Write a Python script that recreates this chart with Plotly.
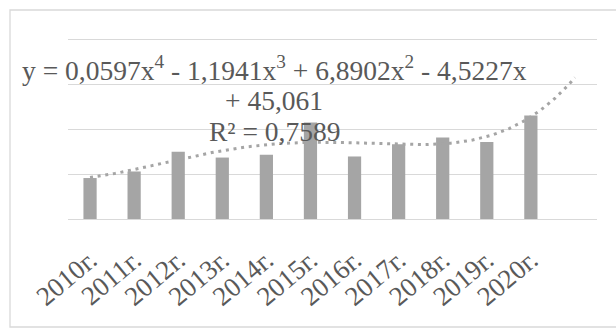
import numpy as np
import plotly.graph_objects as go

# Years and observed values
years = ["2010г.", "2011г.", "2012г.", "2013г.", "2014г.", "2015г.",
         "2016г.", "2017г.", "2018г.", "2019г.", "2020г."]
values = [45.6, 52.9, 74.8, 68.4, 71.4, 107.3, 69.6, 83.3, 90.7, 85.6, 115.1]

# Polynomial trend (4th degree) coefficients, highest power first
trend_coefs = [0.0597, -1.1941, 6.8902, -4.5227, 45.061]
trend_r2 = 0.7589
forecast_periods = 1

# Value-axis grid (small headroom so the top grid line is drawn)
y_max = 201.5
y_step = 50

TEXT = "#595959"
GRID = "#D9D9D9"
SERIF = "Liberation Serif"

xs = np.arange(1, len(values) + 1)
tx = np.linspace(1, len(values) + forecast_periods, 200)
ty = np.polyval(trend_coefs, tx)

fig = go.Figure()
fig.add_trace(go.Bar(x=xs, y=values, marker=dict(color="#A5A5A5", line_width=0),
                     showlegend=False))
fig.add_trace(go.Scatter(x=tx, y=ty, mode="lines",
                         line=dict(color="#A5A5A5", width=3, dash="3px,4.7px"),
                         showlegend=False))


def fmt(v):
    return f"{abs(v):.4f}".rstrip("0").replace(".", ",")


c4, c3, c2, c1, c0 = trend_coefs
sign = lambda v: "-" if v < 0 else "+"
line1 = (f"y = {fmt(c4)}x<sup>4</sup> {sign(c3)} {fmt(c3)}x<sup>3</sup> "
         f"{sign(c2)} {fmt(c2)}x<sup>2</sup> {sign(c1)} {fmt(c1)}x")
line2 = f"{sign(c0)} {fmt(c0)}"
line3 = f"R² = {fmt(trend_r2)}"

# label block centred above the bars; y positions in data units
for txt, yy in [(line1, 167.5), (line2, 131.4), (line3, 97.0)]:
    fig.add_annotation(x=5.175, y=yy, xref="x", yref="y", text=txt,
                       showarrow=False, xanchor="center", yanchor="middle",
                       font=dict(family=SERIF, size=27.5, color=TEXT))

fig.update_xaxes(range=[0.5, len(values) + forecast_periods + 0.5],
                 tickvals=list(xs), ticktext=years, tickangle=-40,
                 tickfont=dict(family=SERIF, size=27, color=TEXT),
                 ticklabelstandoff=19,
                 showgrid=False, showline=False, ticks="", zeroline=False)
fig.update_yaxes(range=[0, y_max], dtick=y_step, showticklabels=False,
                 gridcolor=GRID, gridwidth=1.3, zeroline=True,
                 zerolinecolor=GRID, zerolinewidth=1.3, showline=False)

# outer chart border
shapes = [
    dict(type="rect", xref="paper", yref="paper",
         x0=-58 / 529, x1=1.1, y0=-108 / 181, y1=1 + 28 / 181,
         line=dict(color=GRID, width=1.3)),
]

fig.update_layout(width=616, height=329, bargap=0.7,
                  margin=dict(l=68, r=19, t=38, b=110),
                  paper_bgcolor="white", plot_bgcolor="white",
                  shapes=shapes)

fig.write_html("out.html")
